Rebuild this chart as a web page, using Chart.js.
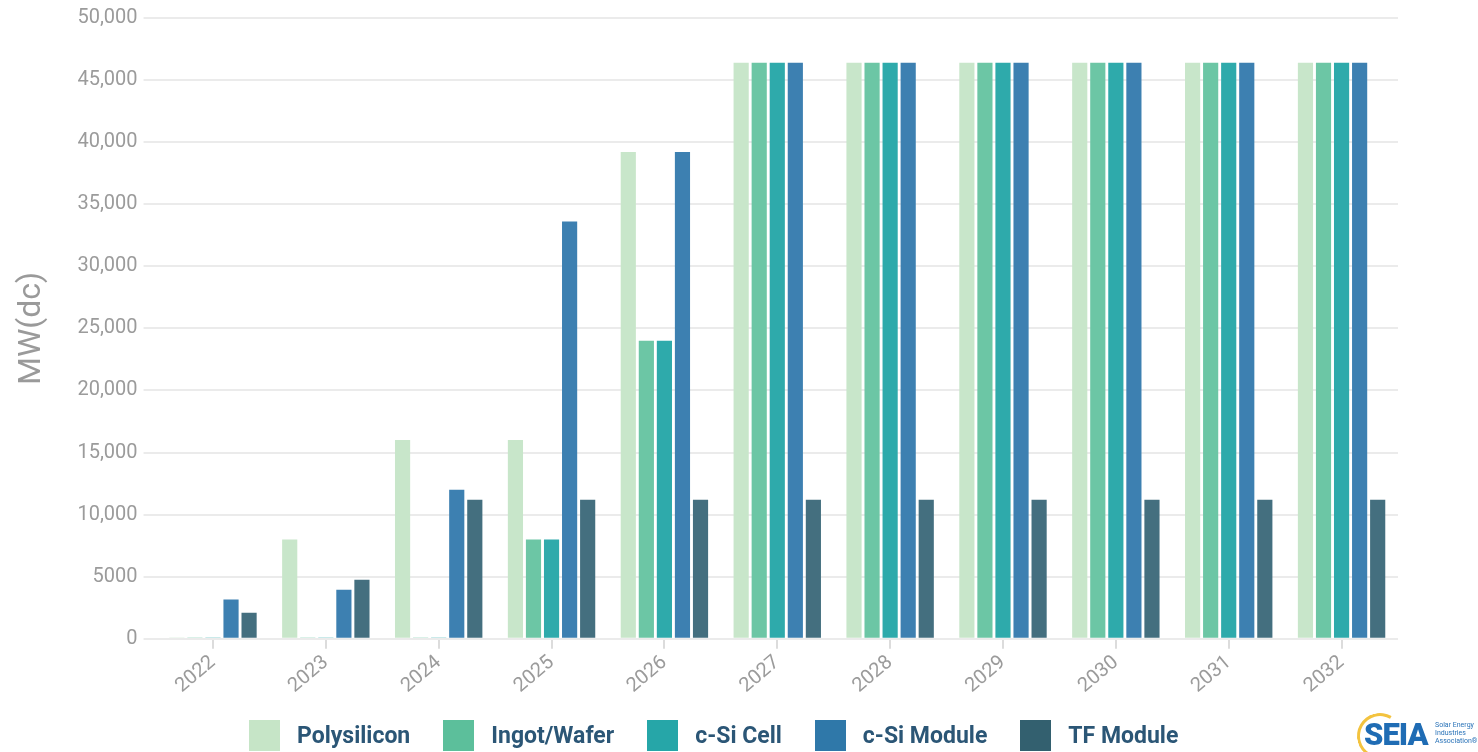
<!DOCTYPE html>
<html>
<head>
<meta charset="utf-8">
<script src="https://cdn.jsdelivr.net/npm/chart.js@4/dist/chart.umd.min.js"></script>
<style>
  html, body { margin: 0; padding: 0; background: #ffffff; overflow: hidden; }
  #wrap { position: relative; width: 1478px; height: 752px; }
  #chart { position: absolute; left: 0; top: 0; }
  #legend { position: absolute; left: 249px; top: 720px; display: flex; align-items: center;
            font-family: Roboto, "Noto Sans", sans-serif; font-weight: 700; font-size: 23px; color: #2b5676; }
  .item { display: flex; align-items: center; margin-right: 33px; }
  .swatch { width: 31px; height: 31px; margin-right: 17px; }
  #logo { position: absolute; left: 1355px; top: 711px; width: 123px; height: 41px; font-family: Roboto, sans-serif; }
  #logo .ring { position: absolute; left: 2px; top: 2px; width: 40px; height: 40px; border-radius: 50%;
                border: 3px solid transparent; border-top-color: #f3c33f; border-left-color: #f3c33f; transform: rotate(-15deg); }
  #logo .mark { position: absolute; left: 9px; top: 8px; font-weight: 900; font-size: 31px; letter-spacing: -1px; color: #1f6cb4; line-height: 31px; }
  #logo .sub { position: absolute; left: 80px; top: 10px; font-size: 7px; line-height: 8px; color: #2a73b8; }
</style>
</head>
<body>
<div id="wrap">
  <canvas id="chart" width="1478" height="752"></canvas>
  <div id="legend"></div>
  <div id="logo">
    <div class="ring"></div>
    <div class="mark">SEIA</div>
    <div class="sub">Solar Energy<br>Industries<br>Association®</div>
  </div>
</div>
<script>
// Domestic manufacturing capacity by segment, MW(dc)
const years = ['2022', '2023', '2024', '2025', '2026', '2027', '2028', '2029', '2030', '2031', '2032'];
const seriesNames = ['Polysilicon', 'Ingot/Wafer', 'c-Si Cell', 'c-Si Module', 'TF Module'];
const polysilicon = [100, 8000, 16000, 16000, 39200, 46400, 46400, 46400, 46400, 46400, 46400];
const ingotWafer  = [100, 100, 100, 8000, 24000, 46400, 46400, 46400, 46400, 46400, 46400];
const csiCell     = [100, 100, 100, 8000, 24000, 46400, 46400, 46400, 46400, 46400, 46400];
const csiModule   = [3150, 3950, 12000, 33600, 39200, 46400, 46400, 46400, 46400, 46400, 46400];
const tfModule    = [2100, 4750, 11200, 11200, 11200, 11200, 11200, 11200, 11200, 11200, 11200];
const yTickLabels = ['0', '5000', '10,000', '15,000', '20,000', '25,000', '30,000', '35,000', '40,000', '45,000', '50,000'];

const swatchColors = ['#c6e5c7', '#5cbf9b', '#26a6a8', '#2f78a9', '#33606f'];
const barColors    = ['#c8e6ca', '#6cc6a5', '#2eaaab', '#3d80b1', '#446f7f'];
const seriesData = [polysilicon, ingotWafer, csiCell, csiModule, tfModule];

const datasets = seriesNames.map((name, i) => ({
  label: name,
  data: seriesData[i],
  backgroundColor: barColors[i],
  borderWidth: 0,
  categoryPercentage: 0.8,
  barPercentage: 0.84
}));

// Legend row
const legendEl = document.getElementById('legend');
seriesNames.forEach((name, i) => {
  const item = document.createElement('div');
  item.className = 'item';
  const sw = document.createElement('div');
  sw.className = 'swatch';
  sw.style.background = swatchColors[i];
  const tx = document.createElement('span');
  tx.textContent = name;
  item.appendChild(sw);
  item.appendChild(tx);
  legendEl.appendChild(item);
});

const gridGrey = '#ebebeb';
const textGrey = '#9b9b9b';

new Chart(document.getElementById('chart'), {
  type: 'bar',
  data: { labels: years, datasets },
  options: {
    responsive: false,
    animation: false,
    devicePixelRatio: 1,
    layout: { padding: { left: 9, right: 80, top: 8, bottom: 52 } },
    plugins: { legend: { display: false }, tooltip: { enabled: false } },
    scales: {
      x: {
        border: { display: false },
        grid: { offset: false, drawOnChartArea: false, drawTicks: true, tickLength: 10, color: '#dcdcdc', lineWidth: 2 },
        ticks: {
          color: textGrey,
          font: { family: 'Roboto', size: 20 },
          minRotation: 40, maxRotation: 40,
          padding: 2
        }
      },
      y: {
        min: 0, max: 50000,
        border: { display: false },
        grid: { color: gridGrey, lineWidth: 2, tickLength: 13, drawTicks: true },
        ticks: {
          stepSize: 5000,
          color: textGrey,
          font: { family: 'Roboto', size: 20 },
          padding: 6,
          callback: (v) => yTickLabels[Math.round(v / 5000)]
        },
        title: {
          display: true,
          text: 'MW(dc)',
          color: '#9a9a9a',
          font: { family: 'Roboto', size: 32 },
          padding: { top: 4, bottom: 20 }
        }
      }
    }
  }
});
</script>
</body>
</html>
